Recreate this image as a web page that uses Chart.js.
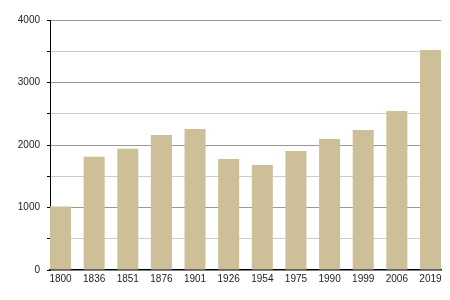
<!DOCTYPE html>
<html>
<head>
<meta charset="utf-8">
<script src="https://cdn.jsdelivr.net/npm/chart.js@4"></script>
<style>
    html, body { margin: 0; padding: 0; background: #fff; }
    #wrap { width: 450px; height: 300px; }
</style>
</head>
<body>
<div id="wrap"><canvas id="chart"></canvas></div>
<script>
    const years = ['1800', '1836', '1851', '1876', '1901', '1926', '1954', '1975', '1990', '1999', '2006', '2019']
    const population = [1015, 1813, 1940, 2160, 2256, 1776, 1680, 1906, 2096, 2240, 2544, 3520]
    const yTicks = [0, 1000, 2000, 3000, 4000]

    const data = {
        datasets: [{
            data: years.map((y, i) => ({ x: i, y: population[i] })),
            backgroundColor: '#cdbf98',
            categoryPercentage: 1,
            barPercentage: 0.625
        }]
    };

    const config = {
        type: 'bar',
        data: data,
        options: {
            responsive: false,
            animation: false,
            layout: { padding: { top: 20, right: 9, left: 0, bottom: 0 } },
            plugins: {
                legend: { display: false },
                tooltip: { enabled: false }
            },
            scales: {
                x: {
                    type: 'linear',
                    offset: false,
                    min: -0.3125,
                    max: 11.3125,
                    grid: { display: false, drawTicks: false, offset: false },
                    border: { display: true, color: '#000', width: 1.5 },
                    ticks: {
                        stepSize: 1,
                        includeBounds: false,
                        autoSkip: false,
                        maxRotation: 0,
                        padding: 3,
                        color: '#222',
                        font: { family: 'Liberation Sans', size: 10 },
                        callback: (v) => Number.isInteger(v) ? years[v] : ''
                    },
                    afterFit: (s) => { s.height = 30 }
                },
                y: {
                    min: 0,
                    max: 4000,
                    grid: {
                        color: (ctx) => {
                            const v = ctx.tick ? ctx.tick.value : 0
                            if (v === 0) return 'rgba(0,0,0,0)'
                            return yTicks.includes(v) ? '#999' : '#ccc'
                        },
                        tickColor: '#000',
                        tickLength: 3,
                        lineWidth: 1
                    },
                    border: { display: true, color: '#000', width: 1 },
                    ticks: {
                        stepSize: 500,
                        padding: 7,
                        color: '#222',
                        font: { family: 'Liberation Sans', size: 10 },
                        callback: (v) => yTicks.includes(v) ? String(v) : ''
                    },
                    afterFit: (s) => { s.width = 50 }
                }
            }
        }
    };

    const canvas = document.getElementById('chart')
    canvas.width = 450
    canvas.height = 300
    var populationChart = new Chart(canvas, config);
</script>
</body>
</html>
